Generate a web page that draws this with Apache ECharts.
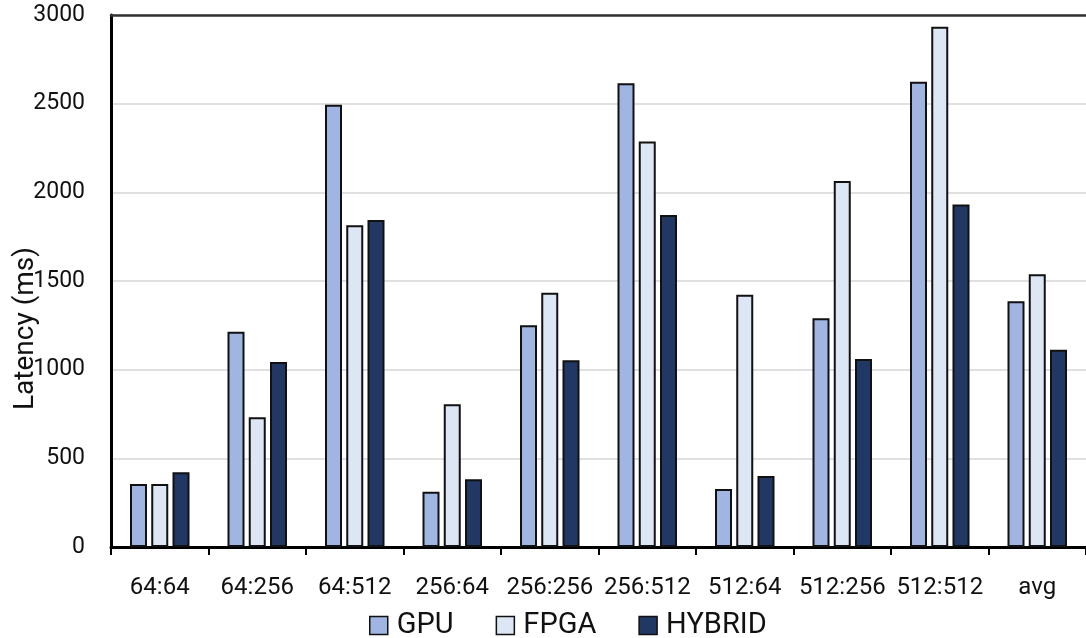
<!DOCTYPE html>
<html>
<head>
<meta charset="utf-8">
<script src="https://cdn.jsdelivr.net/npm/echarts@6/dist/echarts.min.js"></script>
<style>html,body{margin:0;padding:0;background:#fff;}#c{width:1086px;height:638px;}</style>
</head>
<body>
<div id="c"></div>
<script>
const categories = ['64:64','64:256','64:512','256:64','256:256','256:512','512:64','512:256','512:512','avg'];
const gpu    = [355, 1214, 2494, 312, 1250, 2615, 327, 1290, 2624, 1386];
const fpga   = [355, 731, 1814, 805, 1434, 2286, 1423, 2064, 2934, 1538];
const hybrid = [421, 1043, 1844, 382, 1053, 1872, 400, 1060, 1932, 1113];
const yTicks = [0, 500, 1000, 1500, 2000, 2500, 3000];

const FONT = 'Roboto';
const chart = echarts.init(document.getElementById('c'), null, {renderer: 'canvas'});
function bar(name, data, color) {
  return {
    name: name, type: 'bar', data: data, barWidth: 17, barGap: '25%',
    itemStyle: {color: color, borderColor: '#111', borderWidth: 2},
    xAxisIndex: 0, yAxisIndex: 0
  };
}
chart.setOption({
  animation: false,
  backgroundColor: '#fff',
  grid: {left: 111, top: 15, width: 980, bottom: 91, containLabel: false},
  legend: {
    left: 364, top: 606, itemWidth: 18, itemHeight: 18, itemGap: 42,
    icon: 'rect',
    textStyle: {fontFamily: FONT, fontSize: 29, color: '#111', padding: [0,0,0,4]},
    itemStyle: {borderColor: '#111', borderWidth: 1.5},
    data: ['GPU', 'FPGA', 'HYBRID']
  },
  xAxis: [{
    type: 'category', data: categories, position: 'bottom',
    axisLine: {show: true, lineStyle: {color: '#000', width: 3}},
    axisTick: {show: true, length: 8, lineStyle: {color: '#000', width: 2}},
    axisLabel: {fontFamily: FONT, fontSize: 24, color: '#111', margin: 29, interval: 0},
    splitLine: {show: false}
  }, {
    type: 'category', data: categories, position: 'top',
    axisLine: {show: true, lineStyle: {color: '#333', width: 2.5}},
    axisTick: {show: false}, axisLabel: {show: false}
  }],
  yAxis: {
    type: 'value', min: yTicks[0], max: yTicks[yTicks.length - 1], interval: 500,
    axisLine: {show: true, lineStyle: {color: '#000', width: 3}},
    axisTick: {show: false},
    axisLabel: {fontFamily: FONT, fontSize: 23, color: '#111', margin: 26, formatter: v => String(v)},
    splitLine: {show: true, lineStyle: {color: '#d6d6d6', width: 1.5}}
  },
  graphic: [{
    type: 'text', left: 12, top: 247, rotation: Math.PI / 2,
    style: {text: 'Latency (ms)', fontFamily: FONT, fontSize: 28, fill: '#111'}
  }],
  series: [
    bar('GPU', gpu, '#a0b5e2'),
    bar('FPGA', fpga, '#dde6f5'),
    bar('HYBRID', hybrid, '#213864')
  ]
});
</script>
</body>
</html>
